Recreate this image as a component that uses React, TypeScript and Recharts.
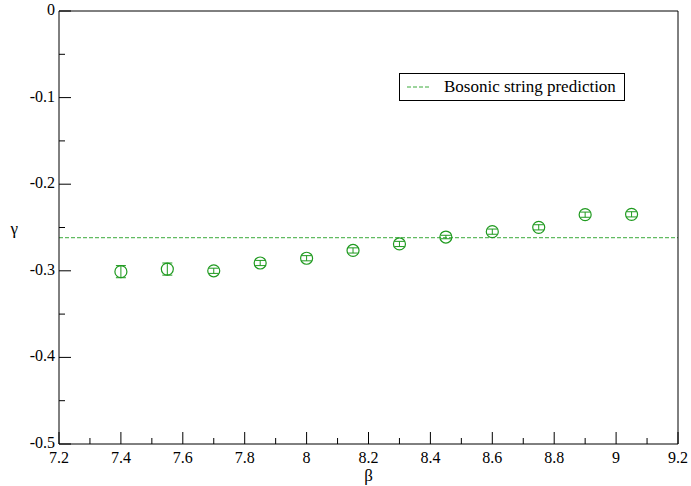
import {
  ScatterChart,
  Scatter,
  XAxis,
  YAxis,
  ErrorBar,
  ReferenceLine,
} from 'recharts'

const betas = [7.4, 7.55, 7.7, 7.85, 8.0, 8.15, 8.3, 8.45, 8.6, 8.75, 8.9, 9.05]
const gammas = [-0.301, -0.298, -0.3, -0.291, -0.2855, -0.2765, -0.269, -0.261, -0.2548, -0.2498, -0.2352, -0.2348]
const gammaErrs = [0.007, 0.007, 0.003, 0.003, 0.003, 0.003, 0.003, 0.002, 0.003, 0.003, 0.003, 0.003]
const bosonicPrediction = -Math.PI / 12

const xTicks = [7.2, 7.3, 7.4, 7.5, 7.6, 7.7, 7.8, 7.9, 8.0, 8.1, 8.2, 8.3, 8.4, 8.5, 8.6, 8.7, 8.8, 8.9, 9.0, 9.1, 9.2]
const yTicks = [-0.5, -0.45, -0.4, -0.35, -0.3, -0.25, -0.2, -0.15, -0.1, -0.05, 0]
const xLabels = ['7.2', '7.4', '7.6', '7.8', '8', '8.2', '8.4', '8.6', '8.8', '9', '9.2']
const yLabels = ['-0.5', '-0.4', '-0.3', '-0.2', '-0.1', '0']

const GREEN = '#1f9a1f'
const DASH_GREEN = '#3aaa3a'
const FONT = "'Liberation Serif', 'DejaVu Serif', serif"

const data = betas.map((b, i) => ({ x: b, y: gammas[i], err: gammaErrs[i] }))

type Side = 'bottom' | 'top' | 'left' | 'right'

function makeTick(side: Side) {
  return (props: any) => {
    const { x, y, payload, index } = props
    const major = index % 2 === 0
    const len = major ? 12 : 6
    const label = major ? (side === 'bottom' ? xLabels[index / 2] : side === 'left' ? yLabels[index / 2] : null) : null
    let line
    if (side === 'bottom') line = <line x1={x} y1={y} x2={x} y2={y - len} stroke="#000" />
    else if (side === 'top') line = <line x1={x} y1={y} x2={x} y2={y + len} stroke="#000" />
    else if (side === 'left') line = <line x1={x} y1={y} x2={x + len} y2={y} stroke="#000" />
    else line = <line x1={x} y1={y} x2={x - len} y2={y} stroke="#000" />
    return (
      <g key={`${side}-${payload.value}`}>
        {line}
        {label && side === 'bottom' && (
          <text x={x} y={y + 19} textAnchor="middle" fontSize={16} style={{ fontFamily: FONT }} fill="#000">
            {label}
          </text>
        )}
        {label && side === 'left' && (
          <text x={x - 4} y={y + 4} textAnchor="end" fontSize={16} style={{ fontFamily: FONT }} fill="#000">
            {label}
          </text>
        )}
      </g>
    )
  }
}

function Ring(props: any) {
  return <circle cx={props.cx} cy={props.cy} r={6} fill="none" stroke={GREEN} strokeWidth={1.2} />
}

function LegendBox() {
  return (
    <div
      style={{
        position: 'absolute',
        left: 399,
        top: 73,
        border: '1px solid #000',
        background: '#fff',
        width: 226,
        height: 28,
        display: 'flex',
        alignItems: 'center',
        fontFamily: FONT,
        fontSize: 17,
        color: '#000',
        boxSizing: 'border-box',
      }}
    >
      <svg width={38} height={10} style={{ marginLeft: 6 }}>
        <line x1={1} y1={5} x2={25} y2={5} stroke={DASH_GREEN} strokeDasharray="4 2" />
      </svg>
      <span>Bosonic string prediction</span>
    </div>
  )
}

export default function App() {
  return (
    <div style={{ position: 'absolute', left: 0, top: 0, width: 691, height: 486, background: '#fff', fontFamily: FONT }}>
      <ScatterChart width={691} height={486} margin={{ top: 10, right: 12, bottom: 41, left: 58 }} style={{ fontFamily: FONT }}>
        <XAxis
          xAxisId="b"
          type="number"
          dataKey="x"
          domain={[7.2, 9.2]}
          ticks={xTicks}
          interval={0}
          height={1}
          tickSize={0}
          tickMargin={0}
          tickLine={false}
          axisLine={{ stroke: '#000' }}
          tick={makeTick('bottom')}
          label={{ value: 'β', position: 'bottom', offset: 24, fontSize: 17, style: { fontFamily: FONT }, fill: '#000' }}
        />
        <XAxis
          xAxisId="t"
          orientation="top"
          type="number"
          domain={[7.2, 9.2]}
          ticks={xTicks}
          interval={0}
          height={1}
          tickSize={0}
          tickMargin={0}
          tickLine={false}
          axisLine={{ stroke: '#000' }}
          tick={makeTick('top')}
        />
        <YAxis
          yAxisId="l"
          type="number"
          dataKey="y"
          domain={[-0.5, 0]}
          ticks={yTicks}
          interval={0}
          width={1}
          tickSize={0}
          tickMargin={0}
          tickLine={false}
          axisLine={{ stroke: '#000' }}
          tick={makeTick('left')}
          label={{ value: 'γ', position: 'left', offset: 40, angle: 0, fontSize: 17, style: { fontFamily: FONT }, fill: '#000' }}
        />
        <YAxis
          yAxisId="r"
          orientation="right"
          type="number"
          domain={[-0.5, 0]}
          ticks={yTicks}
          interval={0}
          width={1}
          tickSize={0}
          tickMargin={0}
          tickLine={false}
          axisLine={{ stroke: '#000' }}
          tick={makeTick('right')}
        />
        <ReferenceLine
          xAxisId="b"
          yAxisId="l"
          y={bosonicPrediction}
          stroke={DASH_GREEN}
          strokeDasharray="4 2"
          strokeWidth={1}
        />
        <Scatter xAxisId="b" yAxisId="l" data={data} shape={<Ring />} isAnimationActive={false}>
          <ErrorBar dataKey="err" direction="y" width={5} stroke={GREEN} strokeWidth={1} isAnimationActive={false} />
        </Scatter>
      </ScatterChart>
      <LegendBox />
    </div>
  )
}
